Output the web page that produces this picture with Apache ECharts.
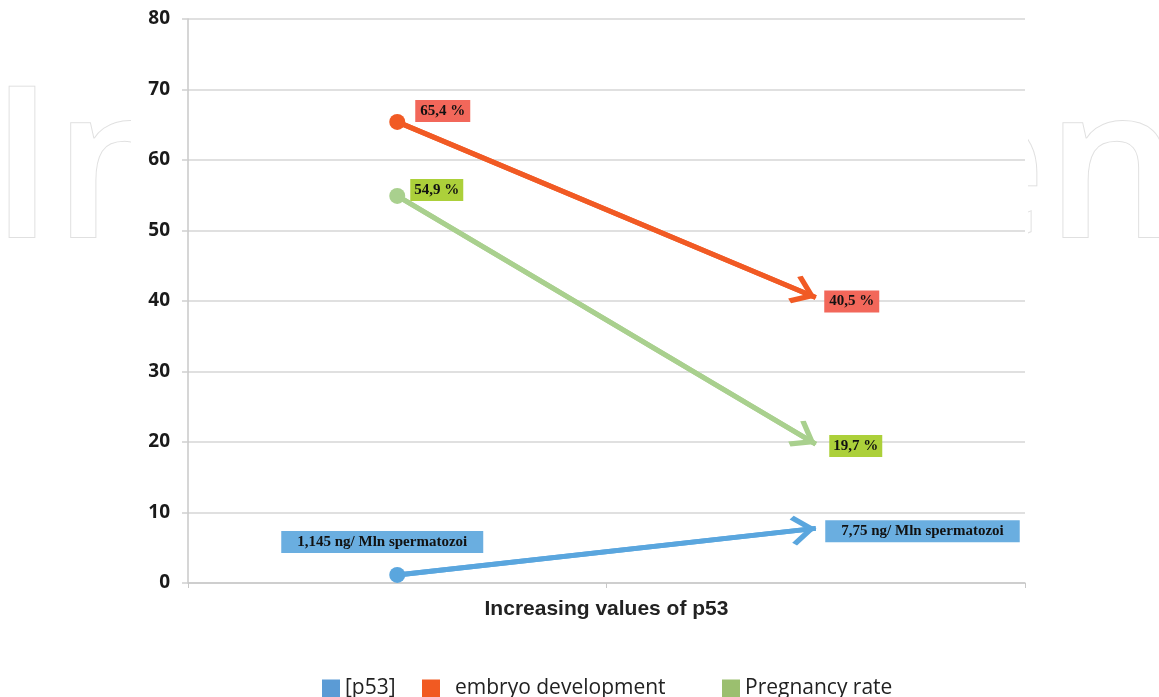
<!DOCTYPE html>
<html>
<head>
<meta charset="utf-8">
<script src="https://cdn.jsdelivr.net/npm/echarts@6/dist/echarts.min.js"></script>
<style>
  html, body { margin: 0; padding: 0; background: #fff; }
  #chart { width: 1159px; height: 697px; }
</style>
</head>
<body>
<div id="chart"></div>
<script>
// two positions along the x axis: low and high p53
const categories = ["low p53", "high p53"];
const yTicks = { min: 0, max: 80, interval: 10 };

const p53Values = [1.145, 7.75];
const embryoValues = [65.4, 40.5];
const pregnancyValues = [54.9, 19.7];

const p53Labels = ["1,145 ng/ Mln spermatozoi", "7,75 ng/ Mln spermatozoi"];
const embryoLabels = ["65,4 %", "40,5 %"];
const pregnancyLabels = ["54,9 %", "19,7 %"];

const seriesNames = ["[p53]", "embryo development", "Pregnancy rate"];
const xAxisTitle = "Increasing values of p53";

// open chevron arrow head, tip sits at the centre of its box
const chevron = "path://M0,-13.4 L0.01,-13.4 Z M0,0 L11,11 L8.6,13.4 L0,4.8 L-8.6,13.4 L-11,11 Z";

const chart = echarts.init(document.getElementById("chart"));

function labelFor(text, bg, place, pad) {
  return {
    show: true,
    formatter: text,
    position: place.position,
    distance: place.distance,
    offset: place.offset,
    backgroundColor: bg,
    color: "#111",
    fontFamily: "'Liberation Serif', 'Times New Roman', serif",
    fontWeight: "bold",
    fontSize: 15,
    lineHeight: 16,
    padding: pad,
  };
}

function arrowSeries(name, values, labels, lineColor, labelBg, places, pad) {
  return {
    name: name,
    type: "line",
    z: 3,
    lineStyle: { color: lineColor, width: 5 },
    itemStyle: { color: lineColor },
    data: values.map((v, i) => ({
      value: v,
      symbol: "circle",
      symbolSize: i === 0 ? 16 : 1,
      label: labelFor(labels[i], labelBg, places[i], pad),
    })),
    markLine: {
      silent: true,
      animation: false,
      symbol: ["none", chevron],
      symbolSize: [30, 50],
      label: { show: false },
      lineStyle: { color: lineColor, width: 5, type: "solid" },
      data: [[
        { coord: [0, values[0]] },
        { coord: [1, values[1]] },
      ]],
    },
  };
}

const legendBase = {
  top: 673,
  icon: "rect",
  itemWidth: 18,
  itemHeight: 18,
  selectedMode: false,
  textStyle: {
    fontFamily: "'Open Sans', sans-serif",
    fontSize: 21,
    color: "#222",
  },
};

chart.setOption({
  animation: false,
  backgroundColor: "#fff",
  graphic: {
    elements: [
      {
        type: "text",
        z: -10,
        silent: true,
        style: {
          text: "IntechOpen",
          x: -10,
          y: 177,
          verticalAlign: "middle",
          font: "600 210px 'Open Sans'",
          fill: "#fff",
          stroke: "#e0e0e0",
          lineWidth: 2,
        },
      },
      {
        type: "rect",
        z: -5,
        silent: true,
        shape: { x: 131, y: 0, width: 897, height: 600 },
        style: { fill: "#fff" },
      },
    ],
  },
  grid: { left: 188, right: 134, top: 19, bottom: 114 },
  legend: [
    Object.assign({}, legendBase, {
      left: 317,
      data: [{ name: seriesNames[0], itemStyle: { color: "#5b9bd5" } }],
    }),
    Object.assign({}, legendBase, {
      left: 417,
      data: [{ name: seriesNames[1], itemStyle: { color: "#f15a22" } }],
      textStyle: Object.assign({}, legendBase.textStyle, { padding: [0, 0, 0, 10] }),
    }),
    Object.assign({}, legendBase, {
      left: 717,
      data: [{ name: seriesNames[2], itemStyle: { color: "#9bbf6f" } }],
    }),
  ],
  xAxis: {
    type: "category",
    data: categories,
    boundaryGap: true,
    name: xAxisTitle,
    nameLocation: "middle",
    nameGap: 16,
    nameTextStyle: {
      fontFamily: "'Liberation Sans', Arial, sans-serif",
      fontWeight: "bold",
      fontSize: 21,
      color: "#222",
    },
    axisLine: { lineStyle: { color: "#c8c8c8", width: 1.5 } },
    axisTick: { show: true, length: 5, lineStyle: { color: "#c8c8c8" } },
    axisLabel: { show: false },
    splitLine: { show: false },
  },
  yAxis: {
    type: "value",
    min: yTicks.min,
    max: yTicks.max,
    interval: yTicks.interval,
    axisLine: { show: true, lineStyle: { color: "#c8c8c8", width: 1.5 } },
    axisTick: { show: true, length: 6, lineStyle: { color: "#d0d0d0", width: 1.5 } },
    axisLabel: {
      margin: 18,
      fontFamily: "'Open Sans', sans-serif",
      fontWeight: "bold",
      fontSize: 19,
      color: "#1a1a1a",
    },
    splitLine: { lineStyle: { color: "#d6d6d6", width: 1.5 } },
  },
  series: [
    arrowSeries(seriesNames[1], embryoValues, embryoLabels, "#f15a24", "#f2675a", [
      { position: "right", distance: 10, offset: [0, -11] },
      { position: "right", distance: 8, offset: [0, 4] },
    ], [3, 5]),
    arrowSeries(seriesNames[2], pregnancyValues, pregnancyLabels, "#a9d08e", "#acd03a", [
      { position: "right", distance: 5, offset: [0, -6] },
      { position: "right", distance: 13, offset: [0, 2] },
    ], [3, 4]),
    arrowSeries(seriesNames[0], p53Values, p53Labels, "#5aa6de", "#6aaee0", [
      { position: "top", distance: 14, offset: [-15, 0] },
      { position: "right", distance: 9, offset: [0, 3] },
    ], [3, 16]),
  ],
});
</script>
</body>
</html>
